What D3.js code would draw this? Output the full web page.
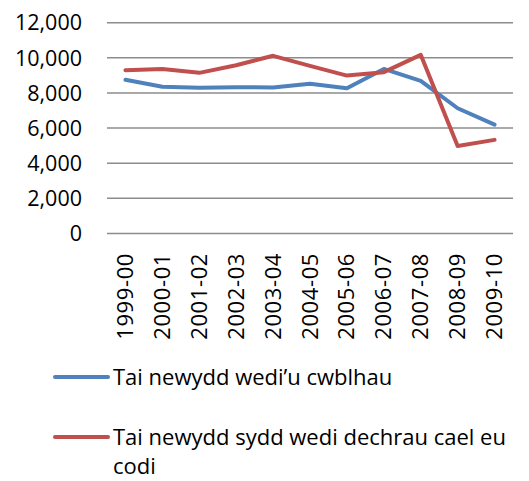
<!DOCTYPE html>
<html><head><meta charset="utf-8">
<script src="https://cdn.jsdelivr.net/npm/d3@7"></script>
<style>body{margin:0;background:#fff}svg{display:block}text{font-family:"Open Sans",sans-serif;fill:#000}</style>
</head><body><svg width="529" height="481"></svg>
<script>
const categories = ["1999-00","2000-01","2001-02","2002-03","2003-04","2004-05","2005-06","2006-07","2007-08","2008-09","2009-10"];
const completed = [8750,8350,8290,8330,8310,8520,8270,9370,8690,7130,6200];
const started = [9300,9370,9145,9580,10115,9545,8990,9185,10170,4985,5330];
const yTicks = [0,2000,4000,6000,8000,10000,12000];
const seriesNames = ["Tai newydd wedi\u2019u cwblhau","Tai newydd sydd wedi dechrau cael eu codi"];
const colors = ["#4F81BD","#C0504D"];

const svg = d3.select("svg");
const x = d3.scaleBand().domain(categories).range([107,513]);
const y = d3.scaleLinear().domain([0,12000]).range([233.5,22.7]);

const g = svg.append("g");
g.selectAll("line.grid").data(yTicks).join("line")
  .attr("x1",107).attr("x2",513).attr("y1",d=>y(d)).attr("y2",d=>y(d))
  .attr("stroke","#8c8c8c").attr("stroke-width",1.5);

g.selectAll("text.yl").data(yTicks).join("text")
  .attr("x",82).attr("y",d=>y(d)).attr("dy","0.36em").attr("text-anchor","end")
  .attr("font-size",21.5).text(d=>d3.format(",")(d));

g.selectAll("text.xl").data(categories).join("text")
  .attr("transform",d=>`translate(${x(d)+x.bandwidth()/2+7.5},253) rotate(-90)`)
  .attr("text-anchor","end").attr("font-size",22).attr("letter-spacing",0.6).text(d=>d);

const line = d3.line().x((d,i)=>x(categories[i])+x.bandwidth()/2).y(d=>y(d));
[completed, started].forEach((s,i)=>{
  g.append("path").datum(s).attr("d",line).attr("fill","none")
   .attr("stroke",colors[i]).attr("stroke-width",4).attr("stroke-linejoin","round").attr("stroke-linecap","round");
});

// legend
const leg = [{y:377, text:[seriesNames[0]]},{y:437, text:["Tai newydd sydd wedi dechrau cael eu","codi"]}];
leg.forEach((l,i)=>{
  svg.append("line").attr("x1",55).attr("x2",108).attr("y1",l.y).attr("y2",l.y)
    .attr("stroke",colors[i]).attr("stroke-width",4).attr("stroke-linecap","round");
  const t = svg.append("text").attr("x",113).attr("y",l.y).attr("font-size",22);
  l.text.forEach((s,j)=>t.append("tspan").attr("x",113).attr("dy",j===0?"0.36em":"1.3em").text(s));
});
</script></body></html>
